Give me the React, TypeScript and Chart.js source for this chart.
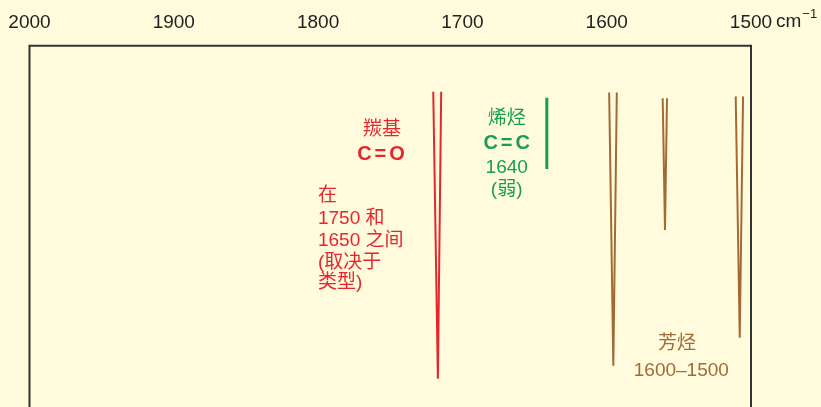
import { useEffect, useRef } from "react";
import { Chart, registerables } from "chart.js";

Chart.register(...registerables);

// wavenumber ticks (cm^-1), axis runs from 2000 down to 1500
const tickValues = [2000, 1900, 1800, 1700, 1600, 1500];
const axisUnit = "cm";
const axisUnitSup = "−1";

// absorption bands: x = wavenumber, y = depth (0 = top of frame, 100 = bottom)
const carbonylX = [1720.2, 1717.0, 1714.7];
const carbonylY = [12.7, 92.2, 12.7];
const alkeneX = [1641.5, 1641.5];
const alkeneY = [14.4, 34.1];
const arom1X = [1598.3, 1595.4, 1593.0];
const arom1Y = [12.9, 88.6, 12.9];
const arom2X = [1561.2, 1559.6, 1558.2];
const arom2Y = [14.5, 51.0, 14.5];
const arom3X = [1510.6, 1507.8, 1505.5];
const arom3Y = [14.0, 80.8, 14.0];

const RED = "#e5262d";
const GREEN = "#17a04c";
const BROWN = "#a16b36";
const BG = "#fffbdc";

type Label = { text: string; x: number; y: number; color: string; bold?: boolean; align: CanvasTextAlign; spacing?: number };

const labels: Label[] = [
  { text: "羰基", x: 1755.7, y: 23.3, color: RED, align: "center" },
  { text: "C=O", x: 1756.4, y: 30.2, color: RED, bold: true, align: "center", spacing: 3 },
  { text: "在", x: 1800.1, y: 41.6, color: RED, align: "left" },
  { text: "1750 和", x: 1800.1, y: 47.8, color: RED, align: "left" },
  { text: "1650 之间", x: 1800.1, y: 53.9, color: RED, align: "left" },
  { text: "(取决于", x: 1800.1, y: 60.0, color: RED, align: "left" },
  { text: "类型)", x: 1800.1, y: 65.5, color: RED, align: "left" },
  { text: "烯烃", x: 1669.3, y: 20.1, color: GREEN, align: "center" },
  { text: "C=C", x: 1669.3, y: 27.1, color: GREEN, bold: true, align: "center", spacing: 3 },
  { text: "1640", x: 1669.3, y: 33.8, color: GREEN, align: "center" },
  { text: "(弱)", x: 1669.3, y: 39.8, color: GREEN, align: "center" },
  { text: "芳烃", x: 1551.3, y: 82.4, color: BROWN, align: "center" },
  { text: "1600–1500", x: 1548.3, y: 90.1, color: BROWN, align: "center" },
];

const FONT = '"Liberation Sans", Arial, "Noto Sans CJK SC", sans-serif';

function pts(xs: number[], ys: number[]) {
  return xs.map((x, i) => ({ x, y: ys[i] }));
}

const decorPlugin = {
  id: "decor",
  beforeDraw(chart: any) {
    const ctx = chart.ctx;
    ctx.save();
    ctx.fillStyle = BG;
    ctx.fillRect(0, 0, chart.width, chart.height);
    ctx.restore();
  },
  afterDraw(chart: any) {
    const ctx = chart.ctx;
    const xs = chart.scales.x;
    const ys = chart.scales.y;
    const { left, right, top, bottom } = chart.chartArea;
    ctx.save();
    // frame: left, top, right
    ctx.strokeStyle = "#333333";
    ctx.lineWidth = 2;
    ctx.beginPath();
    ctx.moveTo(left, bottom + 5);
    ctx.lineTo(left, top);
    ctx.lineTo(right, top);
    ctx.lineTo(right, bottom + 5);
    ctx.stroke();
    // unit after last tick
    const px = xs.getPixelForValue(1500);
    const tickY = top - 24;
    ctx.fillStyle = "#222222";
    ctx.font = `19px ${FONT}`;
    ctx.textAlign = "left";
    ctx.textBaseline = "middle";
    ctx.fillText(axisUnit, px + 25, tickY);
    const w = ctx.measureText(axisUnit).width;
    ctx.font = `13px ${FONT}`;
    ctx.fillText(axisUnitSup, px + 26 + w, tickY - 7);
    // annotations
    for (const l of labels) {
      ctx.font = `${l.bold ? "bold 20px" : "19px"} ${FONT}`;
      ctx.fillStyle = l.color;
      ctx.textAlign = l.align;
      ctx.textBaseline = "middle";
      (ctx as any).letterSpacing = `${l.spacing || 0}px`;
      ctx.fillText(l.text, xs.getPixelForValue(l.x) + (l.spacing ? (l.spacing / 2) : 0), ys.getPixelForValue(l.y));
      (ctx as any).letterSpacing = "0px";
    }
    ctx.restore();
  },
};

export default function App() {
  const ref = useRef<HTMLCanvasElement>(null);
  useEffect(() => {
    document.body.style.margin = "0";
    document.body.style.background = BG;
    document.body.style.overflow = "hidden";
    const line = (xs: number[], ys: number[], color: string, w: number) => ({
      data: pts(xs, ys),
      borderColor: color,
      borderWidth: w,
      pointRadius: 0,
      fill: false,
      tension: 0,
    });
    const chart = new Chart(ref.current!, {
      type: "line",
      data: {
        datasets: [
          line(carbonylX, carbonylY, RED, 2),
          line(alkeneX, alkeneY, GREEN, 3),
          line(arom1X, arom1Y, BROWN, 2),
          line(arom2X, arom2Y, BROWN, 2),
          line(arom3X, arom3Y, BROWN, 2),
        ] as any,
      },
      options: {
        animation: false,
        responsive: false,
        events: [],
        layout: { padding: { left: 29.5, right: 70, top: 7, bottom: 0 } },
        plugins: { legend: { display: false }, tooltip: { enabled: false } },
        scales: {
          x: {
            type: "linear",
            position: "top",
            min: 1500,
            max: 2000,
            reverse: true,
            grid: { display: false },
            border: { display: false },
            afterBuildTicks: (axis: any) => {
              axis.ticks = tickValues.map((v) => ({ value: v }));
            },
            ticks: {
              color: "#222222",
              font: { family: FONT, size: 19 },
              padding: 4,
              maxRotation: 0,
              autoSkip: false,
              callback: (v: any) => String(v),
            },
          },
          y: {
            display: false,
            min: 0,
            max: 100,
            reverse: true,
          },
        },
      },
      plugins: [decorPlugin],
    });
    return () => chart.destroy();
  }, []);
  return (
    <div style={{ position: "fixed", left: 0, top: 0, width: 821, height: 407 }}>
      <canvas ref={ref} width={821} height={407} style={{ display: "block" }} />
    </div>
  );
}
